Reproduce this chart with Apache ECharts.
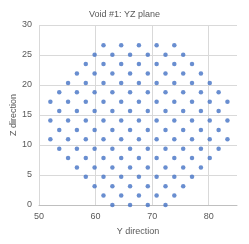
<!DOCTYPE html>
<html><head><meta charset="utf-8">
<script src="https://cdn.jsdelivr.net/npm/echarts@6/dist/echarts.min.js"></script>
<style>html,body{margin:0;padding:0;background:#fff}#c{width:249px;height:244px}</style>
</head><body><div id="c"></div>
<script>
// Z level of each row of points
const zLevels = [0, 1.57, 3.13, 4.70, 6.26, 7.83, 9.39, 10.96, 12.52, 14.09, 15.65, 17.22, 18.78, 20.35, 21.91, 23.48, 25.04, 26.61];
// Y values of the points in each row
const yRows = [
  [62.97, 66.10, 69.23, 72.36],
  [61.40, 64.53, 67.66, 70.79, 73.92],
  [59.83, 62.97, 66.10, 69.23, 72.36, 75.49],
  [58.27, 61.40, 64.53, 67.66, 70.79, 73.92, 77.05],
  [56.70, 59.83, 62.97, 66.10, 69.23, 72.36, 75.49, 78.62],
  [55.14, 58.27, 61.40, 64.53, 67.66, 70.79, 73.92, 77.05, 80.18],
  [53.58, 56.70, 59.83, 62.97, 66.10, 69.23, 72.36, 75.49, 78.62, 81.75],
  [52.01, 55.14, 58.27, 61.40, 64.53, 67.66, 70.79, 73.92, 77.05, 80.18, 83.31],
  [53.58, 56.70, 59.83, 62.97, 66.10, 69.23, 72.36, 75.49, 78.62, 81.75],
  [52.01, 55.14, 58.27, 61.40, 64.53, 67.66, 70.79, 73.92, 77.05, 80.18, 83.31],
  [53.58, 56.70, 59.83, 62.97, 66.10, 69.23, 72.36, 75.49, 78.62, 81.75],
  [52.01, 55.14, 58.27, 61.40, 64.53, 67.66, 70.79, 73.92, 77.05, 80.18, 83.31],
  [53.58, 56.70, 59.83, 62.97, 66.10, 69.23, 72.36, 75.49, 78.62, 81.75],
  [55.14, 58.27, 61.40, 64.53, 67.66, 70.79, 73.92, 77.05, 80.18],
  [56.70, 59.83, 62.97, 66.10, 69.23, 72.36, 75.49, 78.62],
  [58.27, 61.40, 64.53, 67.66, 70.79, 73.92, 77.05],
  [59.83, 62.97, 66.10, 69.23, 72.36, 75.49],
  [61.40, 64.53, 67.66, 70.79, 73.92]
];
const xTicks = [50, 60, 70, 80];
const yTicks = [0, 5, 10, 15, 20, 25, 30];

const points = [];
yRows.forEach((row, i) => row.forEach(y => points.push([y, zLevels[i]])));

const textColor = '#595959';
const font = 'Liberation Sans, Arial, sans-serif';
const chart = echarts.init(document.getElementById('c'), null, {renderer: 'canvas'});
chart.setOption({
  animation: false,
  title: {
    text: 'Void #1: YZ plane', left: 'center', top: 5,
    textStyle: {fontSize: 9, fontWeight: 'normal', color: textColor, fontFamily: font}
  },
  grid: {left: 39, right: 12, top: 25, bottom: 39, containLabel: false, outerBoundsMode: 'none'},
  xAxis: {
    type: 'value', min: xTicks[0], max: 85, interval: 10,
    name: 'Y direction', nameLocation: 'middle', nameGap: 22, nameMoveOverlap: false,
    nameTextStyle: {fontSize: 9, color: textColor, fontFamily: font},
    axisLine: {show: true, lineStyle: {color: '#BFBFBF'}},
    axisTick: {show: false},
    axisLabel: {fontSize: 9, color: textColor, fontFamily: font, margin: 7, showMaxLabel: false},
    splitLine: {show: true, showMaxLine: false, lineStyle: {color: '#D9D9D9'}}
  },
  yAxis: {
    type: 'value', min: yTicks[0], max: yTicks[yTicks.length - 1], interval: 5,
    name: 'Z direction', nameLocation: 'middle', nameGap: 21, nameMoveOverlap: false,
    nameTextStyle: {fontSize: 9, color: textColor, fontFamily: font},
    axisLine: {show: false},
    axisTick: {show: false},
    axisLabel: {fontSize: 9, color: textColor, fontFamily: font, margin: 7},
    splitLine: {show: true, lineStyle: {color: '#D9D9D9'}}
  },
  series: [{
    type: 'scatter', data: points, symbol: 'circle', symbolSize: 4.5,
    itemStyle: {color: '#4472C4'}
  }]
});
</script></body></html>
